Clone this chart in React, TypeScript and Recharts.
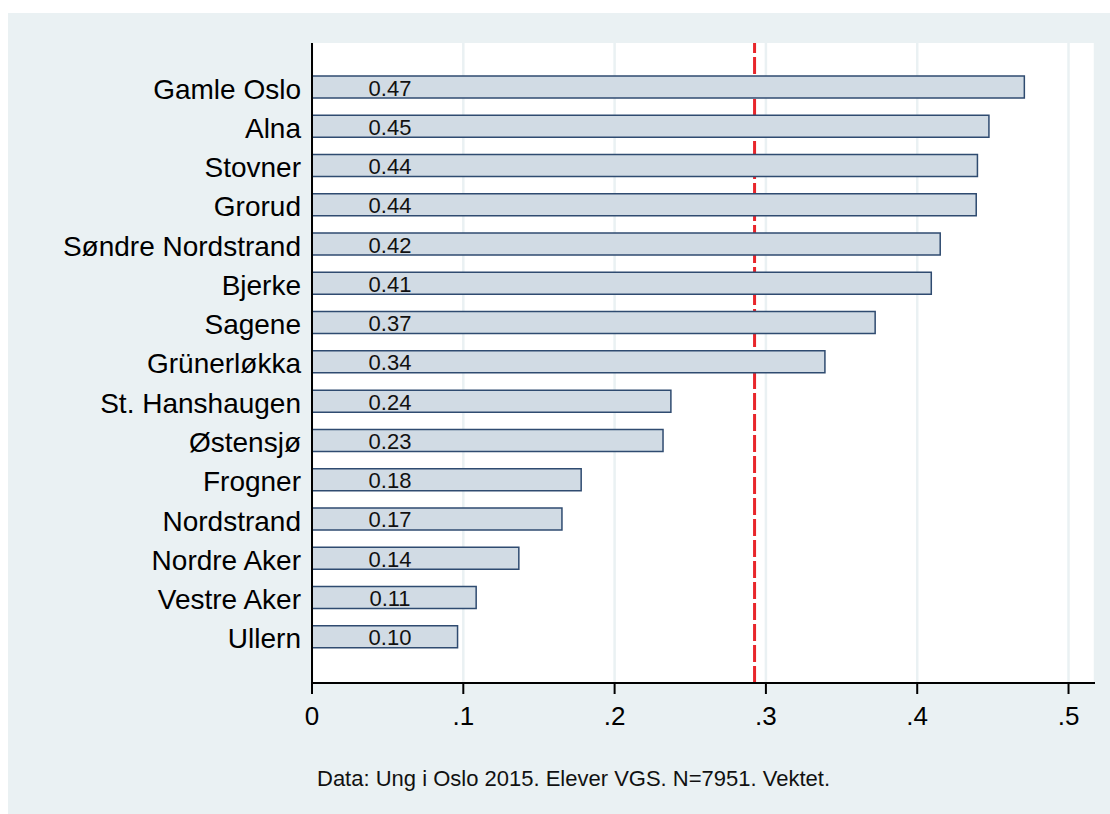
import React from 'react';
import {
  Bar,
  BarChart,
  CartesianGrid,
  LabelList,
  ReferenceLine,
  XAxis,
  YAxis,
} from 'recharts';

const districts = [
  'Gamle Oslo',
  'Alna',
  'Stovner',
  'Grorud',
  'Søndre Nordstrand',
  'Bjerke',
  'Sagene',
  'Grünerløkka',
  'St. Hanshaugen',
  'Østensjø',
  'Frogner',
  'Nordstrand',
  'Nordre Aker',
  'Vestre Aker',
  'Ullern',
];

const shares = [
  0.4708, 0.4474, 0.4398, 0.439, 0.4152, 0.4093, 0.3722, 0.339, 0.2372, 0.232,
  0.1779, 0.1652, 0.1367, 0.1085, 0.0962,
];

const xTicks = [0, 0.1, 0.2, 0.3, 0.4, 0.5];
const meanLine = 0.2925;
const note = 'Data: Ung i Oslo 2015. Elever VGS. N=7951. Vektet.';

const FONT = '"Liberation Sans", Arial, sans-serif';
const BG = '#eaf1f3';

const data = districts.map((name, i) => ({ name, value: shares[i] }));

const fmtTick = (v: number) => (v === 0 ? '0' : v.toFixed(1).replace(/^0/, ''));

const ValueLabel = (props: any) => {
  const { x, y, height, value } = props;
  return (
    <text
      x={Number(x) + 78}
      y={Number(y) + Number(height) / 2 + 1}
      textAnchor="middle"
      dominantBaseline="central"
      fontSize={22}
      fontFamily={FONT}
      fill="#111"
    >
      {Number(value).toFixed(2)}
    </text>
  );
};

// category labels sit a touch below the bar centre in the original
const DistrictTick = (props: any) => {
  const { x, y, payload } = props;
  return (
    <text
      x={x}
      y={Number(y) + 2}
      dy="0.355em"
      textAnchor="end"
      fontSize={28}
      fontFamily={FONT}
      fill="#000"
    >
      {payload.value}
    </text>
  );
};

const App: React.FunctionComponent<any> = () => {
  return (
    <div
      style={{
        position: 'absolute',
        left: 8,
        top: 13,
        width: 1102,
        height: 801,
        background: BG,
        fontFamily: FONT,
      }}
    >
      <div
        style={{
          position: 'absolute',
          left: 304,
          top: 30,
          width: 783,
          height: 640,
          background: '#fff',
        }}
      />
      <BarChart
        width={1102}
        height={801}
        data={data}
        layout="vertical"
        margin={{ top: 30, right: 15, bottom: 81, left: 0 }}
        style={{ position: 'absolute', left: 0, top: 0 }}
      >
        <CartesianGrid horizontal={false} stroke={BG} strokeWidth={2.5} />
        <XAxis
          type="number"
          domain={[0, 0.5175]}
          ticks={xTicks}
          tickFormatter={fmtTick}
          height={50}
          stroke="#000"
          strokeWidth={2}
          tickSize={11}
          tickMargin={13}
          tick={{ fontSize: 26, fill: '#000', fontFamily: FONT }}
          allowDataOverflow
        />
        <YAxis
          type="category"
          dataKey="name"
          width={304}
          stroke="#000"
          strokeWidth={2}
          tickLine={false}
          tickSize={0}
          tickMargin={11}
          padding={{ top: 24, bottom: 27 }}
          interval={0}
          tick={DistrictTick}
        />
        <ReferenceLine
          x={meanLine}
          stroke="#e8262b"
          strokeWidth={3}
          strokeDasharray="17 4"
          zIndex={250}
        />
        <Bar
          dataKey="value"
          barSize={22}
          fill="#d1dbe4"
          stroke="#2f4b70"
          strokeWidth={1.5}
          isAnimationActive={false}
        >
          <LabelList dataKey="value" content={ValueLabel} />
        </Bar>
      </BarChart>
      <div
        style={{
          position: 'absolute',
          left: 309,
          top: 755,
          fontSize: 22,
          lineHeight: '22px',
          color: '#111',
          whiteSpace: 'nowrap',
        }}
      >
        {note}
      </div>
    </div>
  );
};

export default App;
